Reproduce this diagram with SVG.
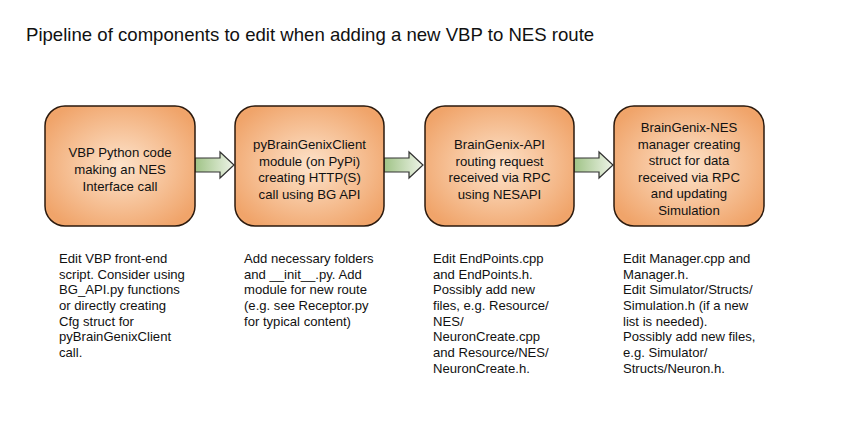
<svg xmlns="http://www.w3.org/2000/svg" width="849" height="434" viewBox="0 0 849 434">
<defs>
<radialGradient id="gBox" cx="50%" cy="50%" r="60%">
<stop offset="0" stop-color="#fde3cb"/>
<stop offset="1" stop-color="#f0a46a"/>
</radialGradient>
<linearGradient id="gArr" x1="0" y1="0" x2="1" y2="0">
<stop offset="0" stop-color="#9fc386"/>
<stop offset="1" stop-color="#eef4e8"/>
</linearGradient>
<path id="arrow" d="M0,158 H25 V152 L39,165 L25,178 V172 H0 Z"/>
</defs>
<style>
.box{fill:url(#gBox);stroke:#2b1a0e;stroke-width:1.5}
.lbl{font-family:"Liberation Sans",Arial,sans-serif;font-size:13.2px;fill:#111;text-anchor:middle}
.note{font-family:"Liberation Sans",Arial,sans-serif;font-size:13.1px;fill:#111}
.title{font-family:"Liberation Sans",Arial,sans-serif;font-size:18.6px;fill:#111}
.arr{fill:url(#gArr);stroke:#333;stroke-width:1.2}
</style>
<rect width="849" height="434" fill="#fff"/>
<text class="title" x="26" y="41">Pipeline of components to edit when adding a new VBP to NES route</text>
<g id="connectors">
<use href="#arrow" class="arr" transform="translate(195,0)"/>
<use href="#arrow" class="arr" transform="translate(384,0)"/>
<use href="#arrow" class="arr" transform="translate(574,0)"/>
</g>
<g id="node1">
<rect class="box" x="45" y="106" width="150" height="120" rx="20"/>
<text class="lbl" x="120" y="157">VBP Python code</text>
<text class="lbl" x="120" y="174">making an NES</text>
<text class="lbl" x="120" y="191">Interface call</text>
</g>
<g id="node2">
<rect class="box" x="235" y="106" width="149" height="120" rx="20"/>
<text class="lbl" x="309.5" y="149">pyBrainGenixClient</text>
<text class="lbl" x="309.5" y="166">module (on PyPi)</text>
<text class="lbl" x="309.5" y="182">creating HTTP(S)</text>
<text class="lbl" x="309.5" y="199">call using BG API</text>
</g>
<g id="node3">
<rect class="box" x="425" y="106" width="149" height="120" rx="20"/>
<text class="lbl" x="499.5" y="149">BrainGenix-API</text>
<text class="lbl" x="499.5" y="166">routing request</text>
<text class="lbl" x="499.5" y="182">received via RPC</text>
<text class="lbl" x="499.5" y="199">using NESAPI</text>
</g>
<g id="node4">
<rect class="box" x="614" y="106" width="150" height="120" rx="20"/>
<text class="lbl" x="689" y="132">BrainGenix-NES</text>
<text class="lbl" x="689" y="149">manager creating</text>
<text class="lbl" x="689" y="165">struct for data</text>
<text class="lbl" x="689" y="182">received via RPC</text>
<text class="lbl" x="689" y="198">and updating</text>
<text class="lbl" x="689" y="215">Simulation</text>
</g>
<g id="notes1">
<text class="note" x="59" y="263">Edit VBP front-end</text>
<text class="note" x="59" y="279">script. Consider using</text>
<text class="note" x="59" y="294">BG_API.py functions</text>
<text class="note" x="59" y="310">or directly creating</text>
<text class="note" x="59" y="326">Cfg struct for</text>
<text class="note" x="59" y="341">pyBrainGenixClient</text>
<text class="note" x="59" y="357">call.</text>
</g>
<g id="notes2">
<text class="note" x="244" y="263">Add necessary folders</text>
<text class="note" x="244" y="279">and __init__.py. Add</text>
<text class="note" x="244" y="294">module for new route</text>
<text class="note" x="244" y="310">(e.g. see Receptor.py</text>
<text class="note" x="244" y="326">for typical content)</text>
</g>
<g id="notes3">
<text class="note" x="433" y="263">Edit EndPoints.cpp</text>
<text class="note" x="433" y="279">and EndPoints.h.</text>
<text class="note" x="433" y="294">Possibly add new</text>
<text class="note" x="433" y="310">files, e.g. Resource/</text>
<text class="note" x="433" y="326">NES/</text>
<text class="note" x="433" y="341">NeuronCreate.cpp</text>
<text class="note" x="433" y="357">and Resource/NES/</text>
<text class="note" x="433" y="373">NeuronCreate.h.</text>
</g>
<g id="notes4">
<text class="note" x="623" y="263">Edit Manager.cpp and</text>
<text class="note" x="623" y="279">Manager.h.</text>
<text class="note" x="623" y="294">Edit Simulator/Structs/</text>
<text class="note" x="623" y="310">Simulation.h (if a new</text>
<text class="note" x="623" y="326">list is needed).</text>
<text class="note" x="623" y="341">Possibly add new files,</text>
<text class="note" x="623" y="357">e.g. Simulator/</text>
<text class="note" x="623" y="373">Structs/Neuron.h.</text>
</g>
</svg>
